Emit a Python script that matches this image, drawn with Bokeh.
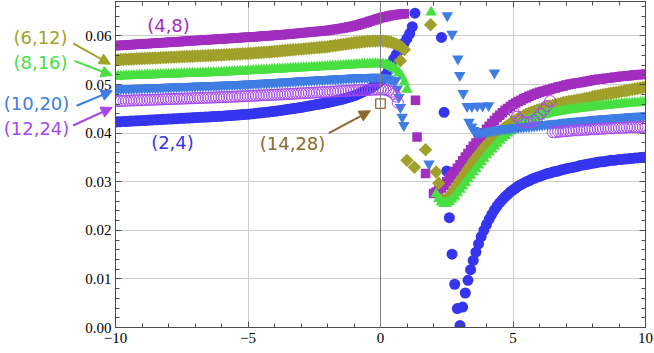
import math
from bokeh.plotting import figure
from bokeh.layouts import row
from bokeh.models import (FixedTicker, LinearAxis, Span, Label, Arrow, NormalHead,
                          Range1d, NumeralTickFormatter, CustomJSTickFormatter)
from bokeh.embed import file_html
from bokeh.resources import INLINE

STEP = 0.1
def grid(x0, n):
    return [round(x0 + STEP * i, 2) for i in range(n)]

# ---------------- data ----------------
# (2,4)
y24_left = [.04230, .04233, .04236, .04239, .04242, .04245, .04248, .04251, .04254, .04257,
            .04260, .04263, .04266, .04269, .04272, .04275, .04278, .04281, .04284, .04287,
            .04290, .04293, .04296, .04299, .04302, .04305, .04308, .04311, .04314, .04317,
            .04320, .04323, .04326, .04329, .04332, .04335, .04338, .04341, .04344, .04347,
            .04350, .04354, .04358, .04362, .04366, .04370, .04374, .04378, .04382, .04386,
            .04390, .04396, .04402, .04408, .04414, .04420, .04426, .04432, .04438, .04444,
            .04450, .04458, .04466, .04474, .04482, .04490, .04498, .04506, .04514, .04522,
            .04530, .04540, .04550, .04560, .04570, .04580, .04590, .04600, .04610, .04620,
            .04630, .04642, .04654, .04666, .04678, .04690, .04705, .04720, .04735, .04750,
            .04770, .04790, .04815, .04840, .04865, .04890, .04920, .04955, .04990, .05030,
            .05075, .05130, .05200, .05300, .05430, .05530, .05620, .05700, .05780, .05860,
            .05950, .06050, .06190, .06470]
y24_right = [.0597, .0443, .0322, .0226, .0151, .0089, .0039,
             .0004, .0042, .0071, .0097, .0119, .0138, .0155, .0172, .0187, .0200,
             .0212, .0223, .0233, .0242, .0250, .0257, .0263, .0269, .0274, .0279,
             .0283, .0287, .0291, .0294, .0297, .0300, .0302, .0305, .0307, .0309,
             .0311, .0313, .0315, .0317, .0318, .0320, .0321, .0322, .0324, .0325,
             .0327, .0328, .0329, .0330, .0331, .0333, .0334, .0335, .0336, .0337,
             .0338, .0339, .0340, .0341, .0341, .0342, .0343, .0344, .0344, .0345,
             .0346, .0346, .0347, .0347, .0348, .0348, .0349, .0349, .0350, .0350,
             .0351]

# (4,8)
y48_left = [.05800, .05804, .05807, .05811, .05814, .05818, .05821, .05825, .05828, .05832,
            .05835, .05839, .05842, .05846, .05849, .05853, .05856, .05860, .05863, .05867,
            .05870, .05874, .05877, .05881, .05884, .05888, .05891, .05895, .05898, .05902,
            .05905, .05909, .05912, .05916, .05919, .05923, .05926, .05930, .05933, .05937,
            .05940, .05944, .05947, .05951, .05954, .05958, .05961, .05965, .05968, .05972,
            .05975, .05979, .05983, .05987, .05991, .05995, .05999, .06003, .06007, .06011,
            .06015, .06019, .06024, .06028, .06033, .06037, .06042, .06046, .06051, .06055,
            .06060, .06065, .06071, .06076, .06082, .06087, .06093, .06098, .06104, .06109,
            .06115, .06123, .06131, .06139, .06147, .06155, .06165, .06175, .06185, .06195,
            .06205, .06220, .06236, .06252, .06268, .06285, .06302, .06319, .06336, .06353,
            .06370, .06385, .06398, .06410, .06420, .06430, .06438, .06446, .06453, .06460]
x48_mid = [1.32, 1.38, 1.70]
y48_mid = [.0468, .0392, .0317]
y48_right = [.0276, .0279, .0283, .0287, .0293, .0300, .0307, .0314, .0321, .0328,
             .0335, .0343, .0351, .0358, .0366, .0373, .0380, .0387, .0394, .0401,
             .0408, .0414, .0420, .0426, .0432, .0437, .0442, .0447, .0451, .0455,
             .0459, .0462, .0465, .0468, .0471, .0473, .0476, .0478, .0480, .0482,
             .0484, .0486, .0487, .0489, .0490, .0492, .0493, .0495, .0496, .0497,
             .0499, .0500, .0501, .0502, .0503, .0504, .0505, .0506, .0507, .0508,
             .0509, .0510, .0511, .0511, .0512, .0513, .0513, .0514, .0515, .0515,
             .0516, .0517, .0517, .0518, .0518, .0519, .0520, .0520, .0521, .0521,
             .0522]

# (6,12)
y612_left = [.05510, .05512, .05515, .05517, .05520, .05522, .05525, .05527, .05530, .05532,
             .05535, .05537, .05540, .05542, .05545, .05547, .05550, .05552, .05555, .05557,
             .05560, .05562, .05565, .05567, .05570, .05572, .05575, .05577, .05580, .05582,
             .05585, .05587, .05590, .05592, .05595, .05597, .05600, .05602, .05605, .05607,
             .05610, .05613, .05616, .05619, .05622, .05625, .05628, .05631, .05634, .05637,
             .05640, .05644, .05648, .05652, .05656, .05660, .05664, .05668, .05672, .05676,
             .05680, .05685, .05690, .05695, .05700, .05705, .05710, .05715, .05720, .05725,
             .05730, .05735, .05740, .05745, .05750, .05755, .05760, .05765, .05770, .05775,
             .05780, .05788, .05796, .05804, .05812, .05820, .05828, .05836, .05844, .05852,
             .05860, .05866, .05872, .05878, .05884, .05890, .05893, .05896, .05898, .05900,
             .05900, .05898, .05892, .05882, .05870, .05852, .05830, .05805, .05770, .05720]
x612_mid = [0.75, 1.00, 1.28, 1.70, 1.89, 2.10, 2.20]
y612_mid = [.0549, .0344, .0330, .0366, .0623, .0320, .0297]
y612_right = [.0263, .0262, .0265, .0271, .0278, .0286, .0294,
              .0302, .0310, .0318, .0326, .0334, .0342, .0349, .0356, .0363, .0370,
              .0376, .0382, .0388, .0393, .0398, .0403, .0408, .0412, .0416, .0420,
              .0424, .0427, .0430, .0433, .0436, .0439, .0441, .0443, .0445, .0447,
              .0449, .0451, .0453, .0454, .0456, .0457, .0459, .0460, .0461, .0463,
              .0464, .0465, .0466, .0467, .0468, .0469, .0470, .0471, .0472, .0473,
              .0475, .0476, .0477, .0478, .0479, .0480, .0481, .0482, .0483, .0484,
              .0485, .0486, .0487, .0488, .0489, .0490, .0491, .0492, .0493, .0494,
              .0495]

# (8,16)
y816_left = [.05170, .05172, .05174, .05176, .05178, .05180, .05182, .05184, .05186, .05188,
             .05190, .05192, .05194, .05196, .05198, .05200, .05202, .05204, .05206, .05208,
             .05210, .05212, .05214, .05216, .05218, .05220, .05222, .05224, .05226, .05228,
             .05230, .05232, .05234, .05236, .05238, .05240, .05242, .05244, .05246, .05248,
             .05250, .05253, .05256, .05259, .05262, .05265, .05268, .05271, .05274, .05277,
             .05280, .05283, .05286, .05289, .05292, .05295, .05298, .05301, .05304, .05307,
             .05310, .05313, .05316, .05319, .05322, .05325, .05328, .05331, .05334, .05337,
             .05340, .05343, .05346, .05349, .05352, .05355, .05358, .05361, .05364, .05367,
             .05370, .05373, .05377, .05380, .05384, .05387, .05391, .05394, .05398, .05401,
             .05405, .05408, .05411, .05414, .05417, .05420, .05422, .05424, .05425, .05425,
             .05425, .05420, .05410, .05395, .05370, .05340, .05300, .05245, .05170, .05050,
             .04900]
x816_mid = [1.91]
y816_mid = [.0649]
y816_right = [.0275, .0265, .0258, .0255, .0256, .0259, .0264, .0270, .0277,
              .0284, .0291, .0298, .0306, .0313, .0320, .0327, .0334, .0341, .0348,
              .0355, .0361, .0367, .0373, .0379, .0385, .0390, .0395, .0400, .0404,
              .0408, .0412, .0415, .0418, .0421, .0424, .0427, .0429, .0431, .0433,
              .0435, .0437, .0438, .0440, .0441, .0442, .0443, .0444, .0445, .0446,
              .0447, .0448, .0449, .0449, .0450, .0451, .0451, .0452, .0453, .0453,
              .0454, .0455, .0455, .0456, .0456, .0457, .0457, .0458, .0458, .0459,
              .0459, .0460, .0460, .0461, .0461, .0462, .0462, .0462, .0463, .0463,
              .0464]

# (10,20)
y1020_left = [.04910, .04912, .04914, .04916, .04918, .04920, .04922, .04924, .04926, .04928,
              .04930, .04932, .04934, .04936, .04938, .04940, .04942, .04944, .04946, .04948,
              .04950, .04952, .04954, .04956, .04958, .04960, .04962, .04964, .04966, .04968,
              .04970, .04972, .04974, .04976, .04978, .04980, .04982, .04984, .04986, .04988,
              .04990, .04992, .04995, .04997, .05000, .05002, .05005, .05007, .05010, .05012,
              .05015, .05018, .05021, .05024, .05027, .05030, .05033, .05036, .05039, .05042,
              .05045, .05048, .05052, .05055, .05059, .05062, .05066, .05069, .05073, .05076,
              .05080, .05083, .05086, .05089, .05092, .05095, .05098, .05101, .05104, .05107,
              .05110, .05113, .05116, .05119, .05122, .05125, .05128, .05131, .05134, .05137,
              .05140, .05142, .05144, .05146, .05148, .05150, .05151, .05152, .05152, .05152,
              .05150, .05145, .05135, .05120, .05100, .05075]
x1020_mid = [0.57, 0.63, 0.69, 0.75, 0.82, 0.88, 1.83, 2.52, 2.70, 2.92, 2.99, 3.12,
             3.27, 3.45, 3.65, 3.85, 4.08, 3.34, 3.44, 3.52, 4.30]
y1020_mid = [.0508, .0491, .0474, .0453, .0433, .0416, .0337, .0642, .0604, .0553, .0519, .0482,
             .0455, .0455, .0456, .0456, .0457, .0423, .0413, .0406, .0524]
y1020_right = [.0402, .0401, .0401, .0402,
               .0403, .0404, .0405, .0406, .0407, .0408, .0409, .0409, .0410, .0410,
               .0411, .0412, .0412, .0413, .0413, .0414, .0414, .0415, .0415, .0416,
               .0417, .0417, .0418, .0418, .0419, .0419, .0420, .0421, .0421, .0422,
               .0423, .0423, .0424, .0424, .0425, .0425, .0426, .0426, .0427, .0427,
               .0428, .0428, .0429, .0429, .0430, .0430, .0430, .0431, .0431, .0432,
               .0432, .0432, .0433, .0433, .0434, .0434, .0434, .0435, .0435, .0435,
               .0436]

# (12,24)
y1224_left = [.04660, .04662, .04664, .04666, .04668, .04670, .04672, .04674, .04676, .04678,
              .04680, .04682, .04684, .04686, .04688, .04690, .04692, .04694, .04696, .04698,
              .04700, .04702, .04704, .04706, .04708, .04710, .04712, .04714, .04716, .04718,
              .04720, .04722, .04724, .04726, .04728, .04730, .04732, .04734, .04736, .04738,
              .04740, .04742, .04745, .04747, .04750, .04752, .04755, .04757, .04760, .04762,
              .04765, .04767, .04770, .04772, .04775, .04777, .04780, .04782, .04785, .04787,
              .04790, .04793, .04796, .04799, .04802, .04805, .04808, .04811, .04814, .04817,
              .04820, .04823, .04826, .04829, .04832, .04835, .04838, .04841, .04844, .04847,
              .04850, .04853, .04856, .04859, .04862, .04865, .04868, .04871, .04874, .04877,
              .04880, .04882, .04884, .04886, .04888, .04890, .04892, .04894, .04896, .04898,
              .04900, .04898, .04890, .04875, .04850, .04810, .04750]
x1224_mid = [0.65, 5.03, 5.15, 5.28, 5.40, 5.53, 5.66, 5.79, 5.92, 6.04, 6.16, 6.28, 6.40]
y1224_mid = [.0463, .0443, .0434, .0426, .0423, .0422, .0423, .0426, .0432, .0440, .0448, .0456, .0466]
y1224_right = [.0402, .0402, .0403, .0403, .0404,
               .0404, .0405, .0405, .0406, .0406, .0406, .0407, .0407, .0407, .0408,
               .0408, .0408, .0409, .0409, .0409, .0410, .0410, .0410, .0410, .0411,
               .0411, .0411, .0411, .0412, .0412, .0412, .0412, .0412, .0413, .0413,
               .0413]

# (14,28)
x1428 = [0.0]
y1428 = [.0461]

label_text = ["(4,8)", "(6,12)", "(8,16)", "(10,20)", "(12,24)", "(2,4)", "(14,28)"]
x_ticks = [-10, -5, 0, 5, 10]
y_ticks = [0.0, 0.01, 0.02, 0.03, 0.04, 0.05, 0.06]

# ---------------- build ----------------
C24 = "#3535f0"
C48 = "#a22ec0"
C612 = "#a0a12a"
C816 = "#48e040"
C1020 = "#3f7de4"
C1224 = "#a648ee"
C1428 = "#8c6a31"
FRAME = "#4d4d4d"

W, H = 654, 353
BL, BR, BT, BB = 115, 9, 1, 26
X0, X1, Y0, Y1 = -10.0, 10.0, 0.0, 0.0671

p = figure(width=W, height=H, x_range=Range1d(X0, X1), y_range=Range1d(Y0, Y1),
           output_backend="svg", toolbar_location=None,
           min_border_left=BL, min_border_right=BR, min_border_top=BT, min_border_bottom=BB)
p.background_fill_color = "white"
p.border_fill_color = "white"
p.outline_line_color = FRAME

bottom = p.below[0]
left = p.left[0]

xt = FixedTicker(ticks=x_ticks, minor_ticks=[float(v) for v in range(-10, 11)])
yt = FixedTicker(ticks=y_ticks, minor_ticks=[round(0.002 * i, 3) for i in range(0, 34)])

bottom.ticker = xt
left.ticker = yt
bottom.formatter = CustomJSTickFormatter(code="return tick < 0 ? '\u2212' + Math.abs(tick) : String(tick);")
left.formatter = NumeralTickFormatter(format="0.00")

blank = CustomJSTickFormatter(code="return '';")
top = LinearAxis(ticker=xt, formatter=blank, major_label_standoff=0)
right = LinearAxis(ticker=yt, formatter=blank, major_label_standoff=0)
p.add_layout(top, "above")
p.add_layout(right, "right")

for ax in [bottom, left, top, right]:
    ax.axis_line_color = FRAME
    ax.major_tick_line_color = FRAME
    ax.minor_tick_line_color = FRAME
    ax.major_tick_in = 6
    ax.major_tick_out = 0
    ax.minor_tick_in = 4
    ax.minor_tick_out = 0
for ax in [bottom, left]:
    ax.major_label_text_font = "Liberation Serif"
    ax.major_label_text_font_size = "15px"
    ax.major_label_text_color = "black"
bottom.major_label_standoff = 5
left.major_label_standoff = 4

p.xgrid.ticker = FixedTicker(ticks=[-5, 5])
p.xgrid.grid_line_color = "#cccccc"
p.ygrid.ticker = FixedTicker(ticks=[0.01, 0.02, 0.03, 0.04, 0.05, 0.06])
p.ygrid.grid_line_color = "#cccccc"
p.add_layout(Span(location=0, dimension="height", line_color="#808080", line_width=1))

# (2,4) blue circles
x24 = grid(-10.0, len(y24_left)) + grid(2.3, len(y24_right))
p.scatter(x24, y24_left + y24_right, marker="circle", size=11, fill_color=C24, line_color=None)
# (4,8) purple squares
x48 = grid(-10.0, len(y48_left)) + x48_mid + grid(2.0, len(y48_right))
p.scatter(x48, y48_left + y48_mid + y48_right, marker="square", size=9.5, fill_color=C48, line_color=None)
# (6,12) olive diamonds
x612 = grid(-10.0, len(y612_left)) + x612_mid + grid(2.3, len(y612_right))
p.scatter(x612, y612_left + y612_mid + y612_right, marker="square", angle=math.pi / 4, size=9.5,
          fill_color=C612, line_color=None)
# (8,16) green triangles
x816 = grid(-10.0, len(y816_left)) + x816_mid + grid(2.1, len(y816_right))
p.scatter(x816, y816_left + y816_mid + y816_right, marker="triangle", size=11.5, fill_color=C816, line_color=None)
# (10,20) blue inverted triangles
x1020 = grid(-10.0, len(y1020_left)) + x1020_mid + grid(3.6, len(y1020_right))
p.scatter(x1020, y1020_left + y1020_mid + y1020_right, marker="inverted_triangle", size=11.5,
          fill_color=C1020, line_color=None)
# (12,24) open circles
x1224 = grid(-10.0, len(y1224_left)) + x1224_mid + grid(6.5, len(y1224_right))
p.scatter(x1224, y1224_left + y1224_mid + y1224_right, marker="circle", size=11, fill_color=None,
          line_color=C1224, line_width=1)
# (14,28) open square
p.scatter(x1428, y1428, marker="square", size=9.5, fill_color=None, line_color=C1428, line_width=1.3)

# ---- transparent overlay figure (same data mapping, frame = whole canvas) for labels/arrows ----
sx = (W - BL - BR) / (X1 - X0)
sy = (H - BT - BB) / (Y1 - Y0)
ov = figure(frame_width=W, frame_height=H,
            x_range=Range1d(X0 - BL / sx, X1 + BR / sx),
            y_range=Range1d(Y0 - BB / sy, Y1 + BT / sy),
            output_backend="svg", toolbar_location=None, min_border=0,
            x_axis_location=None, y_axis_location=None, title=None)
ov.background_fill_alpha = 0
ov.border_fill_alpha = 0
ov.outline_line_color = None
ov.grid.visible = False
ov.margin = (0, 0, 0, -W)

lab_pos = [(-8.0, 0.06234, C48), (-12.83, 0.05988, C612), (-12.83, 0.05474, C816),
           (-12.98, 0.04631, C1020), (-12.98, 0.04117, C1224), (-7.85, 0.03829, C24),
           (-3.32, 0.03809, C1428)]
for t, (lx, ly, c) in zip(label_text, lab_pos):
    ov.add_layout(Label(x=lx, y=ly, text=t, text_color=c, text_font="DejaVu Sans",
                        text_font_size="18px", text_align="center", text_baseline="middle"))

arrows = [(-11.60, 0.05870, -10.19, 0.05439, C612),
          (-11.55, 0.05509, -10.12, 0.05207, C816),
          (-11.47, 0.04584, -10.12, 0.04892, C1020),
          (-11.60, 0.04179, -10.12, 0.04549, C1224),
          (-1.95, 0.04021, -0.38, 0.04481, C1428)]
for xs, ys, xe, ye, c in arrows:
    ov.add_layout(Arrow(end=NormalHead(size=11, fill_color=c, line_color=c, line_width=1),
                        x_start=xs, y_start=ys, x_end=xe, y_end=ye, line_color=c, line_width=2))

layout = row(p, ov)
open("out.html", "w").write(file_html(layout, INLINE))
